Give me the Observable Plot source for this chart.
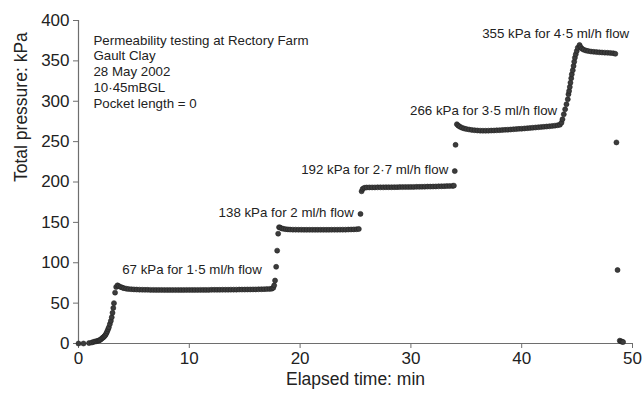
<!DOCTYPE html>
<html>
<head>
<meta charset="utf-8">
<script src="https://cdn.jsdelivr.net/npm/d3@7"></script>
<script src="https://cdn.jsdelivr.net/npm/@observablehq/plot@0.6"></script>
<style>
  html, body { margin: 0; padding: 0; background: #fff; }
  #chart { width: 642px; height: 396px; }
</style>
</head>
<body>
<div id="chart"></div>
<script>
// [elapsed time (min), total pressure (kPa)]
const initialRise = [[0,0],[0.45,0],[0.95,0.5],[1.2,1.2],[1.35,2],[1.5,2.5],[1.62,2.8],[1.75,3.3],[1.85,3.8],[1.93,4.3],[2.03,5.3],[2.14,6.6],[2.22,7.4],[2.29,8.3],[2.37,9.5],[2.44,10.8],[2.52,12.8],[2.59,15],[2.67,17.5],[2.74,20],[2.83,24],[2.92,28],[3.0,32.5],[3.07,38],[3.14,44],[3.2,50],[3.3,63],[3.4,70],[3.52,72]];
const stage1 = [[3.65,71],[3.8,70],[3.95,69.2],[4.1,68.5],[4.3,67.9],[4.5,67.5],[4.75,67.2],[5,67],[5.25,66.8],[5.5,66.7],[5.75,66.6],[6,66.5],[6.25,66.5],[6.5,66.4],[6.75,66.4],[7,66.3],[7.25,66.3],[7.5,66.3],[7.75,66.2],[8,66.2],[8.25,66.2],[8.5,66.2],[8.75,66.2],[9,66.2],[9.25,66.2],[9.5,66.2],[9.75,66.3],[10,66.3],[10.25,66.3],[10.5,66.3],[10.75,66.3],[11,66.4],[11.25,66.4],[11.5,66.4],[11.75,66.4],[12,66.5],[12.25,66.5],[12.5,66.5],[12.75,66.5],[13,66.6],[13.25,66.6],[13.5,66.6],[13.75,66.7],[14,66.7],[14.25,66.7],[14.5,66.8],[14.75,66.8],[15,66.8],[15.25,66.9],[15.5,66.9],[15.75,67],[16,67],[16.25,67.1],[16.5,67.2],[16.75,67.3],[17,67.4],[17.25,67.6],[17.45,67.9]];
const rise2 = [[17.58,69],[17.66,72],[17.74,78],[17.84,95],[17.93,115],[18.02,136],[18.1,144]];
const stage2 = [[18.2,143.5],[18.35,142.5],[18.5,142],[18.7,141.6],[18.9,141.3],[19.1,141.1],[19.35,141],[19.6,141],[19.85,140.9],[20.1,140.9],[20.35,140.8],[20.6,140.8],[20.85,140.8],[21.1,140.8],[21.35,140.8],[21.6,140.8],[21.85,140.8],[22.1,140.8],[22.35,140.8],[22.6,140.8],[22.85,140.9],[23.1,140.9],[23.35,140.9],[23.6,141],[23.85,141],[24.1,141],[24.35,141.1],[24.6,141.2],[24.85,141.3],[25.1,141.5],[25.3,141.8]];
const rise3 = [[25.45,160.5]];
const stage3 = [[25.55,188.5],[25.65,191.5],[25.8,192.8],[26,193.2],[26.25,193.3],[26.5,193.3],[26.75,193.3],[27,193.4],[27.25,193.4],[27.5,193.4],[27.75,193.5],[28,193.5],[28.25,193.5],[28.5,193.6],[28.75,193.6],[29,193.7],[29.25,193.7],[29.5,193.8],[29.75,193.8],[30,193.9],[30.25,193.9],[30.5,194],[30.75,194],[31,194.1],[31.25,194.2],[31.5,194.3],[31.75,194.3],[32,194.4],[32.25,194.5],[32.5,194.6],[32.75,194.7],[33,194.8],[33.25,194.9],[33.5,195],[33.75,195.2],[33.88,195.5]];
const rise4 = [[33.96,213.5],[34.03,246]];
const stage4 = [[34.15,271.5],[34.28,269.8],[34.42,268.5],[34.6,267.3],[34.8,266.3],[35,265.6],[35.25,265],[35.5,264.5],[35.75,264.1],[36,263.8],[36.25,263.6],[36.5,263.5],[36.75,263.5],[37,263.6],[37.25,263.7],[37.5,263.8],[37.75,264],[38,264.2],[38.25,264.4],[38.5,264.6],[38.75,264.8],[39,265],[39.25,265.3],[39.5,265.5],[39.75,265.8],[40,266],[40.25,266.3],[40.5,266.6],[40.75,266.9],[41,267.2],[41.25,267.5],[41.5,267.8],[41.75,268.1],[42,268.4],[42.25,268.7],[42.5,269],[42.75,269.4],[43,269.8],[43.25,270.3],[43.45,270.9]];
const rise5 = [[43.59,273.5],[43.68,277.7],[43.8,283.9],[43.92,290.1],[44.04,296.3],[44.16,302.5],[44.22,308.7],[44.28,312.7],[44.34,317.7],[44.4,323],[44.47,328.5],[44.52,333.4],[44.61,338.4],[44.68,343.7],[44.74,349],[44.8,354],[44.88,358.2],[44.97,362.3],[45.06,366.3],[45.22,369.7]];
const stage5 = [[45.32,367],[45.45,365],[45.6,363.8],[45.8,362.8],[46,362.2],[46.25,361.6],[46.5,361.2],[46.75,360.9],[47,360.6],[47.25,360.4],[47.5,360.2],[47.75,360],[48,359.8],[48.25,359.5],[48.45,358.8]];
const release = [[48.55,249],[48.65,91],[48.85,3.5],[48.95,2.8],[49.05,2.2],[49.15,1.8]];

const xTicks = [0, 10, 20, 30, 40, 50];
const yTicks = [0, 50, 100, 150, 200, 250, 300, 350, 400];
const xTitle = "Elapsed time: min";
const yTitle = "Total pressure: kPa";

const infoLines = ["Permeability testing at Rectory Farm", "Gault Clay", "28 May 2002", "10·45mBGL", "Pocket length = 0"];

// stage annotations: text, time, pressure, anchor
const stageLabels = ["67 kPa for 1·5 ml/h flow", "138 kPa for 2 ml/h flow", "192 kPa for 2·7 ml/h flow", "266 kPa for 3·5 ml/h flow", "355 kPa for 4·5 ml/h flow"];
const stageLabelTime = [3.94, 24.85, 33.37, 43.2, 36.43];
const stageLabelPressure = [91, 161.5, 215.8, 288.8, 383];
const stageLabelAnchor = ["start", "end", "end", "end", "start"];

const points = [initialRise, stage1, rise2, stage2, rise3, stage3, rise4, stage4, rise5, stage5, release]
  .flat().map(([t, p]) => ({t, p}));
const labels = stageLabels.map((text, i) => ({text, t: stageLabelTime[i], p: stageLabelPressure[i], anchor: stageLabelAnchor[i]}));

const font = "'Liberation Sans', Arial, Helvetica, sans-serif";
const axisColor = "#6e6e6e";

const chart = Plot.plot({
  width: 642,
  height: 396,
  marginLeft: 78,
  marginRight: 10,
  marginTop: 20,
  marginBottom: 53,
  style: {fontFamily: font, background: "#fff", color: "#222"},
  x: {domain: [0, 50]},
  y: {domain: [0, 400]},
  marks: [
    Plot.axisX({ticks: xTicks, tickSize: 5, tickPadding: 3, fontSize: 17, label: null, stroke: axisColor, color: "#222"}),
    Plot.axisY({ticks: yTicks, tickSize: 5, tickPadding: 4, fontSize: 17, label: null, stroke: axisColor, color: "#222"}),
    Plot.ruleX([0], {stroke: axisColor, strokeWidth: 1.2}),
    Plot.ruleY([0], {stroke: axisColor, strokeWidth: 1.2}),
    Plot.text([xTitle], {frameAnchor: "bottom", dy: 41, fontSize: 17.5, fill: "#222"}),
    Plot.text([yTitle], {frameAnchor: "left", dx: -57, rotate: -90, fontSize: 17.5, fill: "#222"}),
    Plot.dot(points, {x: "t", y: "p", r: 2.5, fill: "#3c3c3c", stroke: "#222", strokeWidth: 0.6}),
    Plot.text(labels.filter(d => d.anchor === "start"), {x: "t", y: "p", text: "text", textAnchor: "start", fontSize: 13.3, fill: "#222"}),
    Plot.text(labels.filter(d => d.anchor === "end"), {x: "t", y: "p", text: "text", textAnchor: "end", fontSize: 13.3, fill: "#222"}),
    Plot.text([infoLines.join("\n")], {x: 1.35, y: 384, textAnchor: "start", lineAnchor: "top", lineHeight: 1.19, fontSize: 13.3, fill: "#222"})
  ]
});
document.getElementById("chart").appendChild(chart);
</script>
</body>
</html>
